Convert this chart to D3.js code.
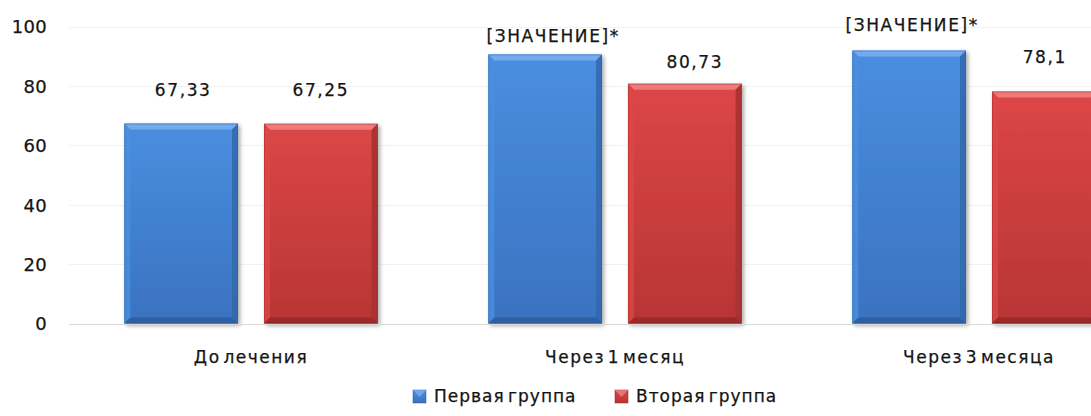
<!DOCTYPE html>
<html>
<head>
<meta charset="utf-8">
<script src="https://cdn.jsdelivr.net/npm/d3@7"></script>
<style>
  html, body { margin: 0; padding: 0; background: #fff; }
  svg { display: block; }
  text { font-family: "DejaVu Sans", sans-serif; fill: #141414; stroke: #141414; stroke-width: 0.25px; }
</style>
</head>
<body>
<svg id="chart" width="1091" height="416"></svg>
<script>
// Chart data
const categories = ["До лечения", "Через 1 месяц", "Через 3 месяца"];
const seriesNames = ["Первая группа", "Вторая группа"];
const firstGroup = [67.33, 90.6, 91.9];
const secondGroup = [67.25, 80.73, 78.1];
const firstLabels = ["67,33", "[ЗНАЧЕНИЕ]*", "[ЗНАЧЕНИЕ]*"];
const secondLabels = ["67,25", "80,73", "78,1"];
const yTicks = [0, 20, 40, 60, 80, 100];

const svg = d3.select("#chart");
const W = 1091, H = 416;

// Plot area (the last category runs past the right edge and is clipped)
const plot = { left: 69, right: 1161, top: 26.5, bottom: 323.5 };

const x0 = d3.scaleBand().domain(categories).range([plot.left, plot.right]).padding(0);
const x1 = d3.scaleBand().domain(seriesNames)
  .range([x0.bandwidth() * 0.152, x0.bandwidth() * 0.848])
  .paddingInner(0.186).paddingOuter(0);
const y = d3.scaleLinear().domain([0, 100]).range([plot.bottom, plot.top]);

const palette = {
  "Первая группа": { light: "#78aef0", top: "#4a8ee0", bottom: "#3a72c0", dark: "#2a5694", side: "#336aaf" },
  "Вторая группа": { light: "#ef8080", top: "#dd4646", bottom: "#b83535", dark: "#8a2626", side: "#a83030" }
};

const defs = svg.append("defs");
seriesNames.forEach((s, i) => {
  const g = defs.append("linearGradient").attr("id", "face" + i)
    .attr("x1", 0).attr("y1", 0).attr("x2", 0).attr("y2", 1);
  g.append("stop").attr("offset", "0%").attr("stop-color", palette[s].top);
  g.append("stop").attr("offset", "100%").attr("stop-color", palette[s].bottom);
});
const shadow = defs.append("filter").attr("id", "shadow")
  .attr("x", "-10%").attr("y", "-10%").attr("width", "125%").attr("height", "125%");
shadow.append("feGaussianBlur").attr("in", "SourceAlpha").attr("stdDeviation", 2);
shadow.append("feOffset").attr("dx", 1.5).attr("dy", 2).attr("result", "off");
shadow.append("feComponentTransfer").append("feFuncA").attr("type", "linear").attr("slope", 0.35);
const merge = shadow.append("feMerge");
merge.append("feMergeNode");
merge.append("feMergeNode").attr("in", "SourceGraphic");

// Gridlines
svg.append("g").selectAll("line").data(yTicks.filter(t => t > 0)).join("line")
  .attr("x1", plot.left).attr("x2", W)
  .attr("y1", d => Math.round(y(d)) + 0.5).attr("y2", d => Math.round(y(d)) + 0.5)
  .attr("stroke", "#f2f2f2").attr("stroke-width", 1);

// Y axis labels
const yAxis = d3.axisLeft(y).tickValues(yTicks).tickSize(0).tickPadding(0);
const yg = svg.append("g").attr("transform", `translate(47,0)`).call(yAxis);
yg.select(".domain").remove();
yg.selectAll("text")
  .style("font-family", "'DejaVu Sans', sans-serif")
  .style("font-size", "18px").style("letter-spacing", "0.3px")
  .attr("fill", "#141414").attr("dy", "0.36em");

// Bars
const rows = categories.map((c, i) => ({
  cat: c,
  vals: [
    { s: seriesNames[0], v: firstGroup[i], label: firstLabels[i], si: 0 },
    { s: seriesNames[1], v: secondGroup[i], label: secondLabels[i], si: 1 }
  ]
}));

const bevel = 6;
const groups = svg.append("g").selectAll("g").data(rows).join("g")
  .attr("transform", d => `translate(${x0(d.cat)},0)`);

const bar = groups.selectAll("g.bar").data(d => d.vals).join("g").attr("class", "bar")
  .attr("filter", "url(#shadow)");

bar.each(function(d) {
  const g = d3.select(this);
  const bx = x1(d.s), bw = x1.bandwidth();
  const by = y(d.v), bh = y(0) - y(d.v);
  const p = palette[d.s];
  const b = bevel;
  g.append("rect").attr("x", bx).attr("y", by).attr("width", bw).attr("height", bh)
    .attr("fill", `url(#face${d.si})`);
  // bevelled edges
  const L = bx, R = bx + bw, T = by, B = by + bh;
  g.append("polygon").attr("points", [[L, T], [R, T], [R - b, T + b], [L + b, T + b]].join(" "))
    .attr("fill", p.light).attr("opacity", 0.9);
  g.append("polygon").attr("points", [[L, T], [L + b, T + b], [L + b, B - b], [L, B]].join(" "))
    .attr("fill", p.top).attr("opacity", 0.8);
  g.append("polygon").attr("points", [[R, T], [R, B], [R - b, B - b], [R - b, T + b]].join(" "))
    .attr("fill", p.side).attr("opacity", 0.9);
  g.append("polygon").attr("points", [[L, B], [L + b, B - b], [R - b, B - b], [R, B]].join(" "))
    .attr("fill", p.dark).attr("opacity", 0.7);
  g.append("rect").attr("x", L + 0.5).attr("y", T + 0.5).attr("width", bw - 1).attr("height", bh - 1)
    .attr("fill", "none").attr("stroke", p.dark).attr("stroke-opacity", 0.35);
});

// Baseline
svg.append("line")
  .attr("x1", plot.left).attr("x2", W)
  .attr("y1", Math.round(y(0)) + 0.5).attr("y2", Math.round(y(0)) + 0.5)
  .attr("stroke", "#d9d9d9");

// Value labels (small per-label nudges keep them clear of neighbours)
const labelLift = [[34, 34], [19, 22], [26, 35]];
const labelShift = [[2, 0], [8, 10], [3, -4]];
groups.each(function(row, ci) {
  d3.select(this).selectAll("text.val").data(row.vals).join("text").attr("class", "val")
    .attr("x", d => x1(d.s) + x1.bandwidth() / 2 + labelShift[ci][d.si])
    .attr("y", d => y(d.v) - labelLift[ci][d.si])
    .attr("dy", "0.36em")
    .attr("text-anchor", "middle")
    .style("font-size", "17px").style("letter-spacing", "1.6px")
    .text(d => d.label);
});

// Category labels
svg.append("g").selectAll("text").data(categories).join("text")
  .attr("x", d => x0(d) + x0.bandwidth() / 2)
  .attr("y", 357)
  .attr("dy", "0.36em")
  .attr("text-anchor", "middle")
  .style("font-size", "17px").style("letter-spacing", "1.5px").style("word-spacing", "-4px")
  .text(d => d);

// Legend
const legendItems = [
  { name: seriesNames[0], x: 413 },
  { name: seriesNames[1], x: 615 }
];
const lg = svg.append("g").selectAll("g").data(legendItems).join("g")
  .attr("transform", d => `translate(${d.x},396)`);
lg.append("rect").attr("x", 0).attr("y", -6).attr("width", 13).attr("height", 13)
  .attr("fill", (d, i) => `url(#face${i})`)
  .attr("stroke", (d) => palette[d.name].dark).attr("stroke-opacity", 0.5);
lg.append("polygon").attr("points", "0,-6 13,-6 6.5,1")
  .attr("fill", d => palette[d.name].light).attr("opacity", 0.8);
lg.append("text").attr("x", 21).attr("y", 0).attr("dy", "0.36em")
  .style("font-size", "17px").style("letter-spacing", "1px").style("word-spacing", "-3px")
  .text(d => d.name);
</script>
</body>
</html>
